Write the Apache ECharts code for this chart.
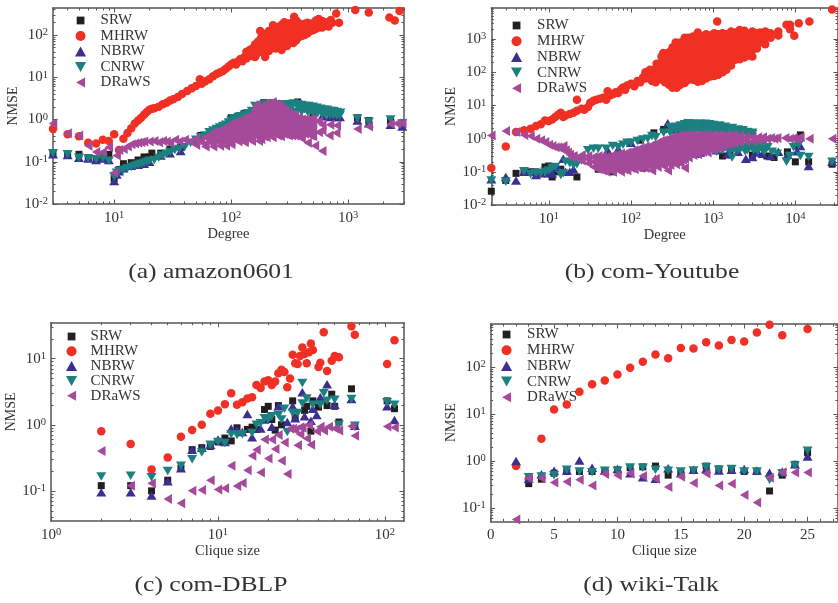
<!DOCTYPE html>
<html><head><meta charset="utf-8">
<style>html,body{margin:0;padding:0;background:#fff;overflow:hidden}#c{width:838px;height:603px}</style>
<script src="https://cdn.jsdelivr.net/npm/echarts@6/dist/echarts.min.js"></script></head>
<body><div id="c"></div>
<script>
const seriesNames=['SRW','MHRW','NBRW','CNRW','DRaWS'];

const a_SRW=[[3,.16],[4,.15],[5,.15],[6,.125],[7,.12],[8,.13],[9,.15],[10,.04],[11,.065],[12,.09],[14,.095],[16,.11],[18,.13],[20,.13],[21,.16],[25,.16],[30,.2],[37,.22],[55,.42],[100,1.1],[130,1.4],[190,2.5],[230,2.5],[370,2.6],[500,1.3],[800,1.2],[1200,1.1],[1500,.95],[2300,.9],[2900,.75]];
const a_MHRW=[[3,.6],[4,.45],[5,.4],[6,.28],[7,.27],[8,.33],[9,.31],[10,.45],[11,.19],[12,.35],[13,.48],[14,.62],[15,.8],[16,.95],[17,1.1],[18,1.3],[19,1.5],[20,1.7],[21,1.8],[22,1.85],[24,2],[26,2.3],[28,2.5],[30,2.8],[32,3],[35,3.4],[38,4],[42,4.7],[46,5.5],[50,6.2],[54,9],[56,7],[60,8],[65,9],[70,10.5],[75,12],[80,13],[85,14],[90,16],[95,18],[100,20],[105,22],[110,20],[115,24],[120,27],[125,24],[130,30],[135,40],[135,28],[140,36],[145,45],[150,32],[150,40],[155,38],[155,50],[160,30],[160,46],[160,60],[165,36],[165,55],[170,45],[170,70],[177,124],[180,40],[180,60],[180,85],[195,30],[195,50],[195,75],[195,105],[210,42],[210,62],[210,90],[210,125],[225,50],[225,75],[225,105],[228,170],[240,48],[240,70],[240,95],[240,130],[255,55],[255,80],[255,115],[255,155],[270,44],[270,65],[270,95],[270,135],[270,175],[285,60],[285,85],[285,120],[285,160],[285,200],[300,55],[300,80],[300,110],[300,150],[300,185],[320,70],[320,100],[320,140],[320,190],[340,65],[340,90],[340,130],[340,170],[345,270],[360,75],[360,115],[360,160],[360,220],[380,90],[380,130],[380,190],[400,95],[400,125],[400,170],[425,100],[425,140],[425,185],[450,110],[450,150],[450,195],[475,125],[475,165],[500,130],[500,190],[530,140],[530,180],[530,220],[560,150],[560,200],[560,240],[600,150],[600,215],[640,165],[640,200],[680,160],[710,228],[730,196],[790,325],[835,196],[1150,390],[1500,340],[2250,260],[2500,220],[2750,370]];
const a_NBRW=[[3,.15],[4,.145],[5,.125],[6,.12],[7,.11],[8,.12],[9,.11],[10,.035],[10.5,.05],[11,.06],[12,.07],[14,.08],[16,.085],[18,.09],[20,.1],[25,.14],[30,.16],[37,.18],[50,.32],[70,.5],[100,1],[130,1.15],[160,1.4],[200,1.6],[400,1.15],[500,1.2],[600,1.2],[700,1.15],[800,1.15],[850,1.15],[1200,.95],[1500,.82],[2300,.75],[2900,.68]];
const a_CNRW=[[3,.16],[4,.15],[5,.125],[6,.12],[7,.115],[8,.125],[9,.105],[10,.045],[10.5,.055],[11,.06],[12,.065],[13,.07],[14,.075],[15,.08],[16,.085],[17,.09],[18,.095],[19,.1],[20,.105],[22,.11],[24,.125],[26,.14],[28,.155],[30,.17],[33,.19],[36,.2],[40,.22],[45,.28],[50,.33],[55,.38],[60,.42],[65,.5],[70,.55],[75,.6],[80,.65],[85,.7],[90,.75],[95,.85],[100,.95],[105,1.05],[110,1],[115,1.15],[120,1.2],[130,1.3],[140,1.4],[150,1.6],[160,2.1],[170,1.9],[180,2.2],[200,2.3],[220,2.4],[240,2.3],[260,2.2],[280,2.3],[300,2.3],[320,2.2],[340,2.4],[370,2.3],[400,2.2],[430,2.1],[460,2.1],[500,2],[540,1.9],[580,1.8],[620,1.7],[660,1.7],[700,1.6],[750,1.6],[800,1.5],[860,1.45],[180,1.6],[200,1.6],[250,1.7],[275,1.9],[300,1.5],[325,1.85],[350,1.5],[375,1.85],[400,1.5],[425,1.75],[450,1.5],[475,1.7],[500,1.4],[525,1.65],[550,1.4],[600,1.35],[650,1.3],[700,1.3],[750,1.3],[800,1.25],[850,1.25],[1200,1.05],[1500,.88],[2300,1],[2900,.8]];
const a_DRaWS=[[3,.8],[4,.47],[5,.42],[6,.24],[7,.17],[8,.17],[9,.22],[10,.055],[10.5,.14],[11,.19],[12,.2],[13,.23],[14,.26],[15,.27],[16,.28],[17,.29],[18,.3],[20,.3],[22,.31],[24,.29],[26,.31],[28,.3],[30,.28],[33,.33],[36,.3],[40,.33],[45,.3],[50,.35],[50,.25],[55,.3],[60,.38],[60,.26],[60,.23],[65,.42],[65,.3],[70,.5],[70,.27],[70,.36],[70,.23],[75,.44],[75,.32],[80,.55],[80,.42],[80,.3],[80,.24],[85,.6],[85,.46],[85,.34],[90,.65],[90,.5],[90,.37],[90,.28],[90,.24],[95,.72],[95,.55],[95,.4],[100,.78],[100,.58],[100,.42],[100,.3],[100,.26],[107,.84],[107,.64],[107,.47],[107,.34],[115,.9],[115,.68],[115,.5],[115,.36],[115,.3],[122,1],[122,.76],[122,.56],[122,.4],[130,1.1],[130,.8],[130,.6],[130,.44],[130,.33],[130,.29],[140,1.2],[140,.9],[140,.66],[140,.48],[140,.35],[150,1.3],[150,1],[150,.72],[150,.52],[150,.36],[150,.31],[157,1.7],[157,1.25],[157,.9],[157,.65],[157,.46],[165,2.2],[165,1.5],[165,1.1],[165,.8],[165,.58],[165,.4],[172,1.85],[172,1.35],[172,1],[172,.72],[172,.52],[172,.38],[172,.31],[180,1.6],[180,1.2],[180,.9],[180,.65],[180,.45],[180,.34],[190,2],[190,1.45],[190,1.05],[190,.78],[190,.56],[190,.4],[200,2.4],[200,1.7],[200,1.25],[200,.92],[200,.68],[200,.48],[200,.38],[212,2.2],[212,1.55],[212,1.15],[212,.84],[212,.6],[212,.44],[225,2.6],[225,1.9],[225,1.35],[225,1],[225,.72],[225,.52],[225,.38],[237,2.3],[237,1.65],[237,1.2],[237,.88],[237,.64],[237,.46],[250,2.2],[250,1.6],[250,1.1],[250,.8],[250,.58],[250,.42],[265,2],[265,1.45],[265,1],[265,.74],[265,.54],[265,.4],[280,1.7],[280,1.25],[280,.9],[280,.65],[280,.46],[295,1.5],[295,1.15],[295,.84],[295,.62],[295,.44],[310,1.4],[310,1.1],[310,.8],[310,.6],[310,.42],[330,1.3],[330,1.02],[330,.76],[330,.56],[330,.42],[350,1.2],[350,1],[350,.75],[350,.55],[350,.42],[375,1.1],[375,.95],[375,.7],[375,.52],[375,.4],[400,1],[400,.85],[400,.65],[400,.48],[400,.36],[425,1],[425,.82],[425,.6],[425,.46],[450,.95],[450,.75],[450,.55],[450,.28],[475,1],[475,.78],[475,.58],[475,.42],[500,1.05],[500,.8],[500,.6],[500,.4],[520,.24],[560,.9],[560,.5],[600,.18],[600,.75],[600,.55],[690,.42],[700,.75],[790,.48],[800,.72],[1200,.6],[1500,.68],[2300,.78],[2600,.8],[2900,.82]];

const b_SRW=[[2,.026],[3,.055],[4,.09],[5,.1],[6,.1],[7,.1],[8,.09],[9,.14],[10,.15],[11,.07],[12,.1],[14,.12],[22,.07],[40,.12],[52,.11],[60,.1],[130,.9],[140,.13],[190,1.5],[250,1.9],[280,2],[320,2.3],[450,.28],[800,2.6],[1200,2.3],[1300,.3],[1600,.32],[2200,1.7],[2700,1.6],[3000,.32],[4500,.3],[5500,.27],[8000,.4],[10000,.2],[10500,.6],[11500,1.3],[14500,.2],[28000,.17]];
const b_MHRW=[[2,.13],[3,.58],[4,1.6],[5,1.8],[6,2],[7,2.4],[8,2.7],[9,3.5],[10,3.4],[11,3.8],[12,4.5],[13,5.3],[14,6],[15,4.5],[16,5],[18,5.5],[20,6],[22,15],[22,7],[25,8],[27,7.5],[30,9],[32,12],[35,14],[38,15],[42,16],[46,17],[52,27],[50,15],[55,20],[60,22],[65,25],[70,24],[75,30],[80,35],[85,30],[90,40],[100,45],[110,38],[120,55],[130,50],[140,70],[150,65],[150,100],[165,75],[170,120],[180,90],[180,55],
[200,50],[200,75],[200,100],[200,130],[205,180],[220,70],[220,95],[220,130],[220,180],[235,300],[240,60],[240,90],[240,130],[240,190],[247,380],[260,50],[260,80],[260,120],[260,180],[260,270],[290,42],[290,70],[290,110],[290,170],[290,260],[290,400],[320,34],[320,60],[320,100],[320,150],[320,240],[320,380],[320,560],[350,800],[360,34],[360,55],[360,90],[360,140],[360,210],[360,330],[360,500],[360,640],[400,42],[400,70],[400,110],[400,170],[400,260],[400,400],[400,620],[400,800],[450,48],[450,80],[450,130],[450,200],[450,310],[450,480],[450,750],[450,1100],[500,60],[500,100],[500,150],[500,240],[500,370],[500,580],[500,900],[500,1100],[570,60],[570,90],[570,140],[570,220],[570,340],[570,520],[570,800],[570,1200],[650,52],[650,85],[650,130],[650,200],[650,310],[650,480],[650,750],[650,1150],[650,1600],[730,55],[730,90],[730,140],[730,220],[730,340],[730,520],[730,800],[730,1200],[820,65],[820,100],[820,160],[820,250],[820,380],[820,600],[820,900],[820,1400],[920,75],[920,100],[920,150],[920,230],[920,360],[920,560],[920,850],[920,1300],[1030,78],[1030,120],[1030,190],[1030,290],[1030,450],[1030,700],[1030,1100],[1030,1500],[1120,3400],[1150,85],[1150,115],[1150,170],[1150,260],[1150,400],[1150,620],[1150,950],[1150,1400],[1300,100],[1300,170],[1300,270],[1300,420],[1300,650],[1300,1000],[1300,1500],[1450,120],[1450,190],[1450,290],[1450,450],[1450,700],[1450,1050],[1450,1400],[1650,160],[1650,250],[1650,380],[1650,580],[1650,880],[1650,1300],[1650,1700],[1850,240],[1850,340],[1850,520],[1850,780],[1850,1150],[1850,1600],[2100,250],[2100,380],[2100,560],[2100,820],[2100,1200],[2100,1900],[2400,280],[2400,420],[2400,620],[2400,900],[2400,1300],[2400,1800],[2700,320],[2700,480],[2700,700],[2700,1000],[2700,1400],[3000,300],[3000,480],[3000,680],[3000,950],[3000,1300],[3000,1700],[3400,520],[3400,780],[3400,1100],[3400,1500],[3700,800],[3700,1150],[3700,1600],[4300,700],[4300,1100],[4300,1700],[5000,1100],[5000,1500],[6200,1300],[6200,1700],[7800,2700],[8600,2000],[8600,2700],[9700,1260],[11000,3000],[14800,3400],[28000,7900]];
const b_NBRW=[[2,.06],[3,.07],[4,.055],[5,.1],[6,.1],[7,.08],[8,.09],[10,.09],[11,.09],[13,.13],[15,.25],[16,.1],[18,.1],[20,.12],[52,.45],[70,.5],[100,.75],[280,2.9],[350,1.9],[450,3],[600,.35],[700,.38],[1000,.55],[1100,.45],[1500,.35],[1800,.55],[2000,.4],[2500,.25],[3000,.28],[3500,.38],[4000,.35],[5000,.3],[6200,.4],[8000,.33],[10500,.42],[11500,.6],[14500,.15],[28000,.2]];
const b_CNRW=[[2,.055],[3,.05],[5,.105],[6,.085],[7,.09],[8,.09],[9,.1],[10,.11],[11,.13],[12,.14],[14,.08],[15,.09],[16,.2],[18,.18],[20,.16],[22,.17],[25,.22],[30,.45],[35,.5],[40,.5],[50,.5],[60,.6],[70,.55],[80,.65],[90,.75],[100,.75],[120,.85],[140,.95],[160,1],[180,1.2],[200,1.1],[250,1.5],[300,2.2],[300,1.5],[350,2.3],[350,1.7],[400,2.5],[400,1.8],[450,2.7],[450,2],[450,1.5],[500,2.9],[500,2.1],[500,1.6],[550,2.8],[550,2.1],[550,1.6],[600,2.8],[600,2.1],[600,1.6],[700,2.8],[700,2.1],[700,1.6],[800,2.8],[800,2.1],[800,1.6],[900,2.7],[900,2],[900,1.6],[1000,2.6],[1000,2],[1000,1.6],[1200,2.5],[1200,1.9],[1200,1.5],[1400,2.3],[1400,1.8],[1400,1.5],[1700,2.1],[1700,1.7],[1700,1.4],[2000,1.9],[2000,1.5],[2300,1.8],[2300,1.5],[2600,1.6],[2600,1.4],[3000,1.5],[3000,1.35],[1100,.4],[1200,.5],[1300,.45],[1400,.55],[1500,.5],[1600,.42],[1700,.27],[1800,.5],[1900,.58],[2000,.45],[2150,.5],[2300,.55],[2450,.42],[2600,.45],[2750,.52],[2900,.58],[3100,.45],[3300,.5],[3500,.42],[3700,.6],[3950,.48],[4200,.4],[4400,.5],[4600,.55],[5200,.4],[6000,.35],[7800,.2],[8500,.3],[9500,.55],[11000,.65],[11500,.3],[14500,.28],[28000,.2]];
const b_DRaWS=[[2,1.25],[3,1.7],[4,1.6],[5,1.3],[6,1.2],[7,1],[8,.9],[9,.8],[10,.65],[11,.6],[12,.55],[13,.55],[14,.5],[15,.6],[16,.45],[17,.38],[18,.33],[19,.28],[20,.3],[22,.26],[25,.32],[25,.22],[30,.18],[30,.24],[30,.3],[35,.14],[35,.2],[35,.28],[40,.12],[40,.17],[40,.24],[40,.3],[45,.11],[45,.15],[45,.21],[45,.29],[50,.1],[50,.14],[50,.2],[50,.28],[55,.12],[55,.17],[55,.24],[60,.1],[60,.14],[60,.2],[60,.28],[60,.32],[67,.12],[67,.17],[67,.24],[67,.33],[75,.1],[75,.14],[75,.2],[75,.28],[75,.36],[82,.12],[82,.17],[82,.24],[82,.34],[90,.11],[90,.15],[90,.22],[90,.3],[90,.38],[100,.13],[100,.19],[100,.27],[100,.4],[110,.12],[110,.17],[110,.24],[110,.33],[110,.45],[120,.14],[120,.2],[120,.29],[120,.42],[130,.13],[130,.18],[130,.26],[130,.36],[130,.52],[140,.15],[140,.22],[140,.31],[140,.46],[150,.13],[150,.19],[150,.27],[150,.38],[150,.58],[165,.16],[165,.23],[165,.34],[165,.5],[180,.11],[180,.14],[180,.2],[180,.29],[180,.42],[180,.65],[195,.17],[195,.25],[195,.36],[195,.54],[210,.14],[210,.21],[210,.3],[210,.44],[210,.75],[230,.18],[230,.27],[230,.38],[230,.58],[230,.85],[250,.15],[250,.22],[250,.32],[250,.47],[250,.7],[250,.9],[275,.2],[275,.28],[275,.42],[275,.62],[275,.95],[280,.11],[300,.16],[300,.24],[300,.35],[300,.5],[300,.75],[300,1.05],[325,.19],[325,.3],[325,.45],[325,.66],[325,1.1],[350,.17],[350,.26],[350,.38],[350,.55],[350,.8],[350,1.15],[375,.21],[375,.33],[375,.48],[375,.72],[375,1.2],[400,.18],[400,.28],[400,.42],[400,.62],[400,.9],[400,1.2],[425,.23],[425,.36],[425,.52],[425,.78],[425,1.25],[450,.13],[450,.25],[450,.36],[450,.55],[450,.8],[450,1.2],[475,.3],[475,.45],[475,.66],[475,1],[500,.27],[500,.4],[500,.6],[500,.9],[500,1.3],[535,.36],[535,.54],[535,.8],[535,1.15],[570,.32],[570,.48],[570,.7],[570,1],[570,1.3],[610,.4],[610,.6],[610,.88],[610,1.2],[650,.34],[650,.5],[650,.75],[650,1.05],[650,1.3],[700,.42],[700,.66],[700,.95],[700,1.25],[750,.4],[750,.6],[750,.85],[750,1.2],[800,.46],[800,.7],[800,1],[800,1.3],[850,.38],[850,.55],[850,.8],[850,1.1],[850,1.3],[925,.48],[925,.62],[925,.9],[925,1.2],[1000,.5],[1000,.7],[1000,1],[1000,1.3],[1075,.52],[1075,.75],[1075,1.05],[1150,.55],[1150,.8],[1150,1.1],[1150,1.3],[1225,.62],[1225,.9],[1225,1.2],[1300,.6],[1300,.85],[1300,1.15],[1400,.68],[1400,.92],[1400,1.2],[1500,.7],[1500,.95],[1500,1.25],[1650,.72],[1650,.98],[1650,1.2],[1800,.75],[1800,1],[1800,1.25],[2100,.8],[2100,1],[2100,1.2],[2500,.85],[2500,1.05],[2500,1.15],[3000,.85],[3000,1.1],[3500,.9],[3500,1.1],[4000,.95],[4000,1.1],[4500,1],[5000,1.05],[5500,1],[6000,1.05],[7500,1.05],[8500,1],[9500,1.05],[10500,1],[11500,1.1],[14800,1],[28000,1]];

const c_SRW=[[2,.12],[3,.12],[4,.1],[5,.145],[6,.22],[7,.42],[8,.45],[9,.47],[10,.55],[11,.63],[12,.57],[13,.9],[15,.85],[16,.92],[17,.85],[19,1.7],[20,1.9],[21,1.2],[22,.83],[23,1.95],[24,1],[28,2.3],[29,1.3],[33,1.65],[34,1.9],[36,.8],[37,2.3],[40,1.85],[45,1.95],[48,2.9],[50,1.9],[53,1.1],[63,3.5],[66,.95],[103,2.3],[114,1.75]];
const c_MHRW=[[2,.8],[3,.51],[4,.21],[5,.32],[6,.66],[7,.83],[8,1],[9,1.47],[10,1.65],[11,2.05],[12,3],[13,2],[14,2.2],[15,2.5],[16,2.6],[17,4],[18,3.6],[19,4.5],[20,4.7],[21,4],[22,4.5],[23,6],[24,6.8],[25,6.3],[26,3.7],[27,5],[28,11.5],[29,8.5],[30,8.3],[31,11],[32,14.7],[33,11.8],[34,8.5],[35,12.5],[36,17],[37,13.5],[40,7.5],[41,8.7],[43,25],[45,6.5],[48,9.3],[50,11],[53,10.5],[63,31],[66,23],[103,8.3],[114,19]];
const c_NBRW=[[2,.095],[3,.095],[4,.085],[5,.14],[6,.22],[7,.42],[8,.45],[9,.5],[10,.6],[11,.55],[12,.88],[13,.85],[14,.78],[15,1.45],[16,.65],[18,.88],[19,1.2],[20,1.35],[21,.93],[23,1.9],[26,1.1],[28,1.9],[29,1.25],[32,3.1],[33,1.35],[36,1.15],[37,1.75],[39,1.4],[41,2.6],[45,4.1],[50,2],[63,2.45],[66,.97],[103,1.9],[114,1.18]];
const c_CNRW=[[2,.165],[3,.17],[4,.16],[5,.2],[6,.24],[7,.3],[8,.38],[9,.5],[10,.55],[11,.53],[12,.72],[13,.7],[14,.72],[16,.75],[17,1],[18,1.05],[19,1.25],[20,1.2],[21,1.35],[23,1.4],[24,1.2],[25,1.75],[26,.78],[28,1.5],[30,1.5],[32,4.3],[32,2.1],[34,2.5],[37,2],[41,2],[43,3],[45,2.3],[50,2.4],[53,1],[63,2.45],[66,.97],[103,2.2],[114,2]];
const c_DRaWS=[[2,.4],[3,.12],[4,.13],[5,.075],[6,.065],[7,.1],[8,.103],[9,.145],[10,.105],[11,.11],[12,.24],[13,.118],[14,.132],[15,.205],[16,.34],[17,.42],[18,.19],[19,.6],[20,.31],[21,.6],[22,.43],[23,.7],[24,.285],[25,.54],[26,.18],[27,.87],[28,.87],[29,.84],[30,.49],[31,.72],[31,.92],[32,.9],[34,.62],[35,.98],[36,.5],[39,.8],[41,.93],[43,.82],[46,.93],[50,.88],[53,.82],[63,.95],[66,.68],[103,.94],[114,.91]];

const d_SRW=[[3,.33],[4,.41],[5,.55],[6,.6],[7,.6],[8,.6],[9,.62],[10,.65],[11,.72],[12,.75],[13,.78],[14,.5],[15,.55],[16,.63],[17,.78],[18,.68],[19,.65],[20,.6],[21,.6],[22,.23],[23,.5],[24,.85],[25,1.5]];
const d_MHRW=[[2,.78],[3,.42],[4,3],[5,12.5],[6,16],[7,30],[8,43],[9,52],[10,70],[11,97],[12,130],[13,185],[14,155],[15,255],[16,250],[17,340],[18,290],[19,380],[20,350],[21,550],[22,800],[23,480],[24,860],[25,650]];
const d_NBRW=[[2,1],[3,.42],[4,.52],[5,.62],[6,.63],[7,1.03],[8,.72],[9,.63],[10,.68],[11,.55],[12,.45],[13,.42],[14,.7],[15,.55],[16,.65],[17,.68],[18,.63],[19,.65],[20,.68],[21,.63],[22,.56],[23,.6],[24,.85],[25,1.25]];
const d_CNRW=[[3,.45],[4,.47],[5,.5],[6,.65],[7,.6],[8,.58],[9,.62],[10,.62],[11,.73],[12,.72],[13,.65],[14,.62],[15,.6],[16,.63],[17,.74],[18,.65],[19,.68],[20,.6],[21,.6],[22,.4],[23,.55],[24,.8],[25,1.65]];
const d_DRaWS=[[2,.057],[3,.43],[4,.43],[5,.35],[6,.36],[7,.4],[8,.3],[9,.53],[10,.5],[11,.55],[12,.48],[13,.42],[14,.28],[15,.46],[16,.34],[17,.54],[18,.3],[19,.33],[20,.19],[21,.13],[22,.44],[23,.58],[24,.57],[25,.57]];

const a_xTicks=[10,100,1000], a_yTicks=[.01,.1,1,10,100];
const b_xTicks=[10,100,1000,10000], b_yTicks=[.01,.1,1,10,100,1000];
const c_xTicks=[1,10,100], c_yTicks=[.1,1,10];
const d_xTicks=[0,5,10,15,20,25], d_yTicks=[.1,1,10,100];

const colors=['#231f20','#f03024','#3a3091','#1d8080','#a54a9b'];
const symbols=['rect','circle','triangle','triangle','triangle'];
const rotates=[0,0,0,180,90];
const sizes=[[7,7],[8.5,8.5],[10,8.5],[10,8.5],[10,8.5]];
const legendIcons=['path://M0,0L0,0M9,9L9,9M1,1H8V8H1Z','circle','path://M5,0L10,9H0Z','path://M0,0H10L5,9Z','path://M9,0V10L0,5Z'];
const serif='"Liberation Serif","Times New Roman",serif';
const ink='#333', lineC='#555';

const panels=[
 {cap:'(a) amazon0601',capX:211,capY:272,xName:'Degree',xNameGap:22,yNameGap:28,xLog:true,grid:[53,8,351,196],xMin:3,xMax:3000,yMin:.01,yMax:436,xt:a_xTicks,yt:a_yTicks,data:[a_SRW,a_MHRW,a_NBRW,a_CNRW,a_DRaWS],leg:[75,13,15.5,30]},
 {cap:'(b) com-Youtube',capX:652,capY:272,xName:'Degree',xNameGap:22,yNameGap:26,xLog:true,grid:[491.3,8,352.7,197],xMin:2,xMax:33000,yMin:.01,yMax:8700,xt:b_xTicks,yt:b_yTicks,data:[b_SRW,b_MHRW,b_NBRW,b_CNRW,b_DRaWS],leg:[511,18,15.7,31]},
 {cap:'(c) com-DBLP',capX:211,capY:585,xName:'Clique size',xNameGap:14,yNameGap:24,xLog:true,grid:[51,322.7,353,198.3],xMin:1,xMax:130,yMin:.035,yMax:35,xt:c_xTicks,yt:c_yTicks,data:[c_SRW,c_MHRW,c_NBRW,c_CNRW,c_DRaWS],leg:[66,329,14.8,28],yPad:[0,0,0,20]},
 {cap:'(d) wiki-Talk',capX:651,capY:585,xName:'Clique size',xNameGap:17,yNameGap:27,xLog:false,grid:[490.7,324,352.3,197.3],xMin:0,xMax:27.4,yMin:.052,yMax:830,xt:d_xTicks,yt:d_yTicks,data:[d_SRW,d_MHRW,d_NBRW,d_CNRW,d_DRaWS],leg:[501,327,15.7,31]}
];

const grids=[],xAxes=[],yAxes=[],series=[],legends=[],graphics=[];
const logLabel=v=>{const p=Math.round(Math.log10(v));return '10{s|'+p+'}';};
const labelRich={s:{fontSize:10.5,fontFamily:serif,color:ink,verticalAlign:'top',padding:[0,0,5,0]}};
function lg(v){return Math.log10(v);}
function minors(lo,hi){const r=[];for(let k=Math.floor(lg(lo));k<=Math.ceil(lg(hi));k++){for(let m=2;m<=9;m++){const v=m*Math.pow(10,k);if(v>=lo&&v<=hi)r.push(lg(v));}}return r;}
function linMinors(lo,hi){const r=[];for(let v=Math.ceil(lo);v<=hi;v++)if(v%5)r.push(v);return r;}

panels.forEach((p,i)=>{
 const [l,t,w,h]=p.grid;
 const gi=grids.length;
 grids.push({left:l,top:t,width:w,height:h,show:false});
 const xi=xAxes.length, yi=yAxes.length;
 const xLine={show:true,onZero:false,lineStyle:{color:lineC,width:1.5}};
 const xBase={gridIndex:gi,min:p.xMin,max:p.xMax,splitLine:{show:false},axisLine:xLine};
 if(p.xLog){xBase.type='log';xBase.logBase=10;}else{xBase.type='value';xBase.interval=5;}
 xAxes.push(Object.assign({},xBase,{position:'bottom',name:p.xName,nameLocation:'middle',nameGap:p.xNameGap,
   nameTextStyle:{fontFamily:serif,fontSize:14.5,color:ink},
   axisTick:{show:true,inside:true,length:4.5,customValues:p.xt,lineStyle:{color:lineC,width:1}},
   axisLabel:Object.assign({show:true,margin:6,customValues:p.xt,fontFamily:serif,fontSize:15,color:ink,showMinLabel:true,showMaxLabel:true,hideOverlap:false},p.xLog?{formatter:logLabel,rich:labelRich}:{})}));
 xAxes.push(Object.assign({},xBase,{position:'top',axisTick:{show:true,inside:true,length:4.5,customValues:p.xt,lineStyle:{color:lineC,width:1}},axisLabel:{show:false}}));
 const yBase={type:'log',logBase:10,gridIndex:gi,min:p.yMin,max:p.yMax,splitLine:{show:false},axisLine:xLine};
 yAxes.push(Object.assign({},yBase,{position:'left',name:'NMSE',nameLocation:'middle',nameGap:p.yNameGap,
   nameTextStyle:{fontFamily:serif,fontSize:14,color:ink,padding:p.yPad||0},
   axisTick:{show:true,inside:true,length:4.5,customValues:p.yt,lineStyle:{color:lineC,width:1}},
   axisLabel:{show:true,margin:5,customValues:p.yt,fontFamily:serif,fontSize:15,color:ink,formatter:logLabel,rich:labelRich,hideOverlap:false}}));
 yAxes.push(Object.assign({},yBase,{position:'right',axisTick:{show:true,inside:true,length:4.5,customValues:p.yt,lineStyle:{color:lineC,width:1}},axisLabel:{show:false}}));
 // overlay grid carrying only the small unlabelled ticks of the log scales
 const go=grids.length;
 grids.push({left:l,top:t,width:w,height:h,show:false});
 const xr=p.xLog?[lg(p.xMin),lg(p.xMax)]:[p.xMin,p.xMax];
 const xm=p.xLog?minors(p.xMin,p.xMax):linMinors(p.xMin,p.xMax);
 const ym=minors(p.yMin,p.yMax);
 ['bottom','top'].forEach(pos=>xAxes.push({type:'value',gridIndex:go,position:pos,min:xr[0],max:xr[1],splitLine:{show:false},axisLine:{show:false,onZero:false},axisLabel:{show:false},axisTick:{show:true,inside:true,length:2.5,customValues:xm,lineStyle:{color:lineC,width:1}}}));
 ['left','right'].forEach(pos=>yAxes.push({type:'value',gridIndex:go,position:pos,min:lg(p.yMin),max:lg(p.yMax),splitLine:{show:false},axisLine:{show:false,onZero:false},axisLabel:{show:false},axisTick:{show:true,inside:true,length:2.5,customValues:ym,lineStyle:{color:lineC,width:1}}}));
 seriesNames.forEach((n,k)=>series.push({name:n,type:'scatter',xAxisIndex:xi,yAxisIndex:yi,data:p.data[k],symbol:symbols[k],symbolRotate:rotates[k],symbolSize:sizes[k],itemStyle:{color:colors[k],opacity:1},silent:true,clip:true,z:2+k}));
 legends.push({data:seriesNames.map((n,k)=>({name:n,icon:legendIcons[k]})),orient:'vertical',left:p.leg[0],top:p.leg[1],itemWidth:p.leg[3],itemHeight:10,itemGap:p.leg[2]-15,padding:0,selectedMode:false,textStyle:{fontFamily:serif,fontSize:15,color:ink,lineHeight:14}});
 graphics.push({type:'text',x:p.capX,y:p.capY,scaleX:1.22,style:{text:p.cap,fontFamily:serif,fontSize:21,fill:ink,textAlign:'center',textVerticalAlign:'middle'}});
});

const chart=echarts.init(document.getElementById('c'),null,{renderer:'canvas',width:838,height:603});
chart.setOption({animation:false,backgroundColor:'#fff',grid:grids,xAxis:xAxes,yAxis:yAxes,series:series,legend:legends,graphic:graphics});
</script></body></html>
